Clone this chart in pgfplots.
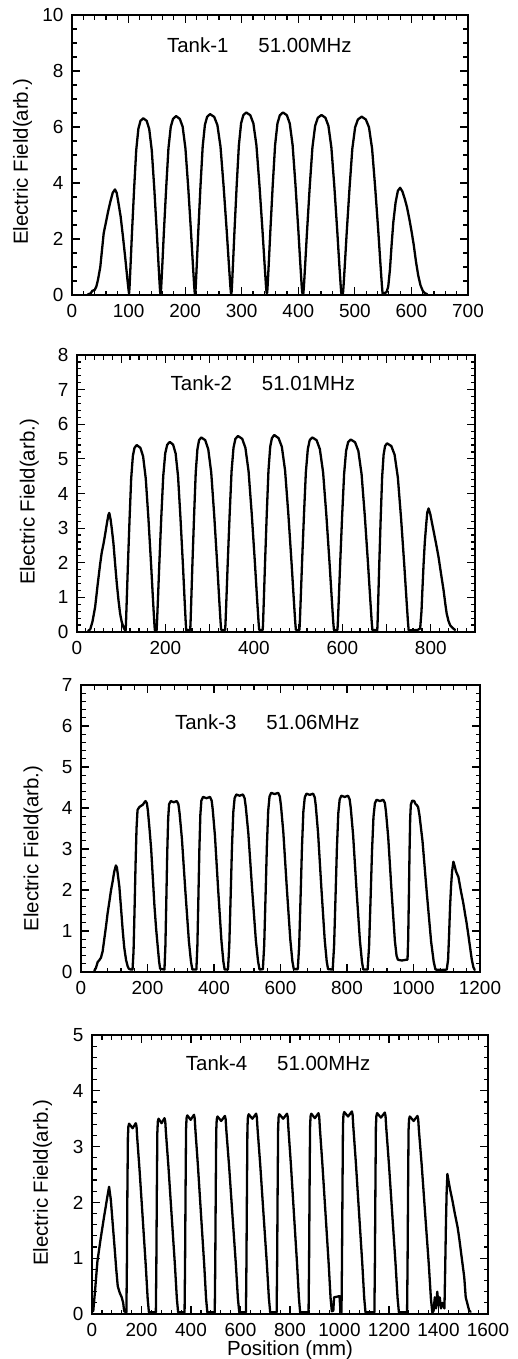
\documentclass[border=0pt]{standalone}
\usepackage{fontspec}
\setmainfont{Liberation Sans}
\usepackage{pgfplots}
\pgfplotsset{compat=1.18}
\newcommand\tickf{\fontsize{19}{21}\selectfont}
\newcommand\labf{\fontsize{20.5}{24}\selectfont}
\newcommand\titlef{\fontsize{20.5}{24}\selectfont}
\pgfplotsset{
  tank/.style={
    scale only axis,
    axis line style={line width=1.6bp},
    every tick/.style={line width=1.2bp, black},
    major tick length=8bp, minor tick length=4.5bp,
    tick align=inside,
    tick label style={font=\tickf},
    /pgf/number format/assume math mode=true,
    /pgf/number format/1000 sep={},
    xticklabel style={yshift=-6bp},
    yticklabel style={xshift=-5bp},
    ylabel={Electric Field(arb.)},
    ylabel style={anchor=center, font=\labf},
    clip=true,
  },
  tankcurve/.style={black, line width=2.3bp, line join=round, line cap=round, mark=none},
}
\begin{document}
\begin{tikzpicture}
\useasboundingbox (0,0) rectangle (518bp,-1359bp);
% ---------------- Tank 1
\begin{axis}[tank, at={(72bp,-295bp)}, anchor=south west, width=396bp, height=280bp,
  xmin=0, xmax=700, ymin=0, ymax=10,
  xtick={0,100,...,700}, minor xtick={0,20,...,700},
  ytick={0,2,...,10}, minor ytick={0,0.5,...,10},
  ylabel style={at={(axis description cs:-0.125,0.475)}}]
\addplot[tankcurve] coordinates {
(28,0.02) (33,0.06) (36,0.15) (40,0.18) (43,0.3) (46,0.55) (50,1.0) (53,1.6) (56,2.2) (60,2.6) (64,3.0) (68,3.35) (72,3.65) (76,3.77) (79,3.65) (82,3.3) (86,2.8) (90,2.1) (94,1.35) (97,0.75) (99,0.35) (100.5,0.1)
(101,0.06) (101.8,0.32) (103.5,1.07) (106,2.21) (109.8,3.79) (113.5,5.17) (117.3,5.93) (121,6.22) (126,6.31) (132,6.22) (136.5,5.93) (141,5.17) (145.5,3.79) (150,2.21) (153,1.07) (155.1,0.32) (156,0.06)
(157,0.06) (157.8,0.32) (159.7,1.09) (162.4,2.24) (166.5,3.83) (170.5,5.24) (174.6,6.01) (178.6,6.29) (184,6.39) (190.6,6.29) (195.6,6.01) (200.5,5.24) (205.5,3.83) (210.4,2.24) (213.7,1.09) (216,0.32) (217,0.06)
(218,0.06) (218.8,0.32) (220.6,1.10) (223.2,2.26) (227.1,3.88) (231,5.30) (234.9,6.07) (238.8,6.36) (244,6.46) (251.4,6.36) (257,6.07) (262.5,5.30) (268,3.88) (273.6,2.26) (277.3,1.10) (279.9,0.32) (281,0.06)
(282,0.07) (282.8,0.33) (284.6,1.11) (287.2,2.28) (291.1,3.91) (295,5.35) (298.9,6.13) (302.8,6.42) (308,6.52) (315.2,6.42) (320.6,6.13) (326,5.35) (331.4,3.91) (336.8,2.28) (340.4,1.11) (342.9,0.33) (344,0.07)
(345,0.07) (345.8,0.33) (347.8,1.11) (350.6,2.28) (354.8,3.91) (359,5.35) (363.2,6.13) (367.4,6.42) (373,6.52) (379.8,6.42) (384.9,6.13) (390,5.35) (395.1,3.91) (400.2,2.28) (403.6,1.11) (406,0.33) (407,0.07)
(409,0.06) (410,0.32) (412.2,1.09) (415.4,2.25) (420.2,3.86) (425,5.27) (429.8,6.04) (434.6,6.33) (441,6.43) (448,6.33) (453.3,6.04) (458.5,5.27) (463.8,3.86) (469,2.25) (472.5,1.09) (475,0.32) (476,0.06)
(479,0.06) (480,0.32) (482.3,1.08) (485.6,2.23) (490.6,3.82) (495.5,5.22) (500.5,5.99) (505.4,6.27) (512,6.37) (519.4,6.27) (525,5.99) (530.5,5.22) (536,3.82) (541.6,2.23) (545.3,1.08) (547.9,0.32) (549,0.06)
(550,0.05) (556,0.1) (559,0.3) (562,0.9) (565,1.8) (568,2.6) (572,3.3) (576,3.72) (580,3.83) (584,3.7) (588,3.45) (592,3.15) (596,2.75) (600,2.3) (604,1.8) (608,1.2) (612,0.7) (616,0.35) (620,0.15) (624,0.06) (628,0.03)
};
\node[font=\titlef] at (rel axis cs:0.473,0.893) {Tank-1\hspace{30bp}51.00MHz};
\end{axis}
% ---------------- Tank 2
\begin{axis}[tank, at={(77bp,-632bp)}, anchor=south west, width=398bp, height=277bp,
  xmin=0, xmax=900, ymin=0, ymax=8,
  xtick={0,100,...,900}, xticklabels={0,,200,,400,,600,,800,},
  minor xtick={0,20,...,900},
  ytick={0,1,...,8}, minor ytick={0,0.2,...,8},
  ylabel style={at={(axis description cs:-0.12,0.47)}}]
\addplot[tankcurve] coordinates {
(25,0.03) (30,0.08) (35,0.3) (41,0.72) (47,1.4) (52.5,1.98) (56,2.3) (60,2.55) (64,2.85) (67.5,3.13) (71,3.38) (73,3.44) (76,3.25) (79,2.95) (82.5,2.55) (86,2.0) (90,1.40) (94,0.9) (97.5,0.53) (101,0.3) (105,0.14) (108,0.06)
(110,0.05) (110.8,0.27) (112.5,0.92) (115,1.89) (118.8,3.24) (122.5,4.43) (126.3,5.08) (130,5.32) (135,5.40) (143.2,5.32) (149.4,5.08) (155.5,4.43) (161.7,3.24) (167.8,1.89) (171.9,0.92) (174.8,0.27) (176,0.05)
(180,0.05) (180.9,0.27) (183,0.93) (186,1.92) (190.5,3.29) (195,4.50) (199.5,5.16) (204,5.41) (210,5.49) (217.4,5.41) (223,5.16) (228.5,4.50) (234,3.29) (239.6,1.92) (243.3,0.93) (245.9,0.27) (247,0.05)
(256,0.06) (256.8,0.28) (258.5,0.96) (261,1.97) (264.8,3.37) (268.5,4.61) (272.3,5.28) (276,5.54) (281,5.62) (290,5.54) (296.8,5.28) (303.5,4.61) (310.3,3.37) (317,1.97) (321.5,0.96) (324.7,0.28) (326,0.06)
(335,0.06) (335.9,0.28) (337.9,0.96) (340.8,1.98) (345.2,3.40) (349.5,4.64) (353.9,5.32) (358.2,5.58) (364,5.66) (373.6,5.58) (380.8,5.32) (388,4.64) (395.2,3.40) (402.4,1.98) (407.2,0.96) (410.6,0.28) (412,0.06)
(420,0.06) (420.8,0.28) (422.6,0.97) (425.2,1.99) (429.1,3.41) (433,4.67) (436.9,5.35) (440.8,5.60) (446,5.69) (455.8,5.60) (463.2,5.35) (470.5,4.67) (477.9,3.41) (485.2,1.99) (490.1,0.97) (493.5,0.28) (495,0.06)
(503,0.06) (503.9,0.28) (505.9,0.96) (508.8,1.97) (513.2,3.37) (517.5,4.61) (521.9,5.28) (526.2,5.54) (532,5.62) (541.8,5.54) (549.2,5.28) (556.5,4.61) (563.9,3.37) (571.2,1.97) (576.1,0.96) (579.5,0.28) (581,0.06)
(589,0.06) (589.9,0.28) (592,0.95) (595,1.95) (599.5,3.34) (604,4.56) (608.5,5.23) (613,5.48) (619,5.56) (628.8,5.48) (636.2,5.23) (643.5,4.56) (650.9,3.34) (658.2,1.95) (663.1,0.95) (666.5,0.28) (668,0.06)
(679,0.05) (679.7,0.27) (681.2,0.93) (683.4,1.91) (686.7,3.27) (690,4.47) (693.3,5.12) (696.6,5.37) (701,5.45) (710.8,5.37) (718.2,5.12) (725.5,4.47) (732.9,3.27) (740.2,1.91) (745.1,0.93) (748.5,0.27) (750,0.05)
(760,0.05) (770,0.06) (776,0.1) (779,0.6) (781,1.2) (783.8,1.98) (786.5,2.6) (789.8,3.13) (792,3.45) (795,3.57) (799,3.4) (802,3.2) (806,2.94) (812,2.55) (817.5,2.17) (823,1.7) (829,1.2) (833,0.8) (836,0.53) (840,0.32) (844,0.19) (851,0.1) (855,0.06)
};
\node[font=\titlef] at (rel axis cs:0.467,0.9) {Tank-2\hspace{30bp}51.01MHz};
\end{axis}
% ---------------- Tank 3
\begin{axis}[tank, at={(81bp,-972bp)}, anchor=south west, width=399bp, height=287bp,
  xmin=0, xmax=1200, ymin=0, ymax=7,
  xtick={0,200,...,1200}, minor xtick={0,40,...,1200},
  ytick={0,1,...,7}, minor ytick={0,0.2,...,7},
  ylabel style={at={(axis description cs:-0.12,0.43)}}]
\addplot[tankcurve] coordinates {
(40,0.03) (45,0.1) (50,0.24) (56,0.3) (60,0.35) (65,0.5) (70,0.8) (75,1.1) (80,1.43) (85,1.7) (90.4,2.0) (95,2.2) (100,2.45) (105,2.6) (108,2.55) (112,2.3) (115.4,2.08) (120,1.6) (125.4,1.02) (130,0.6) (135.6,0.29) (140,0.15) (143.6,0.08) (150,0.06)
(155,0.06) (158,0.5) (161,1.5) (164,2.6) (167,3.5) (170,3.95) (175,4.02) (180,4.05) (186,4.08) (190,4.13) (194,4.17) (198,4.12) (201,3.95) (206,3.5) (211,3.0) (216,2.3) (221,1.6) (226,1.05) (231,0.6) (235,0.25) (238,0.08)
(251,0.06) (253.8,0.63) (256.6,1.75) (259.4,2.92) (262.2,3.75) (265,4.09) (270,4.17) (279,4.14) (288,4.17) (293,4.09) (296.4,3.88) (303.5,3.25) (314,1.96) (324.5,0.75) (330.8,0.25) (335,0.06)
(347,0.06) (350,0.64) (353,1.79) (356,2.99) (359,3.84) (362,4.18) (367,4.27) (377.5,4.24) (388,4.27) (393,4.18) (396.1,3.97) (402.8,3.33) (412.5,2.01) (422.3,0.77) (428.1,0.26) (432,0.06)
(442,0.06) (446,0.65) (450,1.82) (454,3.03) (458,3.90) (462,4.24) (467,4.33) (477,4.30) (487,4.33) (492,4.24) (495.6,4.03) (503.3,3.38) (514.5,2.04) (525.8,0.78) (532.5,0.26) (537,0.06)
(547,0.07) (551,0.66) (555,1.84) (559,3.06) (563,3.93) (567,4.28) (572,4.37) (582.5,4.34) (593,4.37) (598,4.28) (601.4,4.06) (608.5,3.41) (619,2.05) (629.5,0.79) (635.8,0.26) (640,0.07)
(652,0.07) (656.2,0.65) (660.4,1.83) (664.6,3.05) (668.8,3.92) (673,4.26) (678,4.35) (688,4.32) (698,4.35) (703,4.26) (706.2,4.05) (713,3.39) (723,2.04) (733,0.78) (739,0.26) (743,0.07)
(757,0.06) (761.2,0.65) (765.4,1.81) (769.6,3.01) (773.8,3.87) (778,4.21) (783,4.30) (793,4.27) (803,4.30) (808,4.21) (811.3,4.0) (818.3,3.35) (828.5,2.02) (838.8,0.77) (844.9,0.26) (849,0.06)
(862,0.06) (866.4,0.63) (870.8,1.76) (875.2,2.94) (879.6,3.78) (884,4.12) (889,4.20) (899,4.17) (909,4.20) (914,4.12) (917.2,3.91) (924,3.28) (934,1.97) (944,0.76) (949,0.4) (953,0.3) (965,0.28) (978,0.3)
(982,0.3) (984,0.8) (986,1.8) (988,2.9) (990,3.75) (992,4.08) (996,4.18) (1002,4.17) (1006,4.10) (1010,4.07) (1014,4.02) (1018.2,3.81) (1027,3.2) (1040,1.93) (1053,0.74) (1060.8,0.25) (1066,0.06)
(1085,0.05) (1100,0.06) (1104,0.3) (1107,0.9) (1110,1.6) (1113,2.1) (1116,2.45) (1120,2.69) (1124,2.58) (1128,2.45) (1135,2.32) (1142,2.0) (1150,1.67) (1155,1.42) (1160,1.18) (1165,0.9) (1170,0.61) (1175,0.32) (1180,0.12) (1184,0.05)
};
\node[font=\titlef] at (rel axis cs:0.467,0.87) {Tank-3\hspace{30bp}51.06MHz};
\end{axis}
% ---------------- Tank 4
\begin{axis}[tank, at={(92bp,-1314bp)}, anchor=south west, width=396bp, height=279bp,
  xmin=0, xmax=1600, ymin=0, ymax=5,
  xtick={0,200,...,1600}, minor xtick={0,40,...,1600},
  ytick={0,1,...,5}, minor ytick={0,0.2,...,5},
  ylabel style={at={(axis description cs:-0.125,0.47)}},
  xlabel={Position (mm)},
  xlabel style={at={(axis description cs:0.5,-0.13)}, anchor=center, font=\labf}]
\addplot[tankcurve] coordinates {
(5,0.05) (12,0.4) (22,0.95) (35,1.35) (49,1.75) (62,2.1) (69,2.28) (76,2.05) (84,1.6) (92,1.15) (98,0.8) (104,0.5) (112,0.38) (120,0.3) (126,0.2) (130,0.05)
(139,0.03) (141,0.9) (143,2.2) (145,3.16) (147,3.36) (150,3.41) (164,3.33) (177,3.42) (180,3.36) (182.5,3.17) (192.5,2.56) (205,1.71) (217.5,0.85) (225,0.27) (230,0.03)
(258,0.03) (260,0.9) (262,2.2) (264,3.25) (266,3.45) (269,3.50) (281,3.42) (293,3.51) (296,3.45) (298.6,3.26) (309,2.63) (322,1.75) (335,0.88) (342.8,0.28) (348,0.03)
(374,0.03) (376,0.9) (378,2.2) (380,3.31) (382,3.51) (385,3.56) (398.5,3.48) (412,3.57) (415,3.51) (417.6,3.31) (427.8,2.67) (440.5,1.78) (453.3,0.89) (460.9,0.28) (466,0.03)
(496,0.03) (498,0.9) (500,2.2) (502,3.29) (504,3.49) (507,3.54) (522,3.46) (537,3.55) (540,3.49) (542.8,3.29) (553.8,2.66) (567.5,1.77) (581.3,0.89) (589.5,0.28) (595,0.03)
(622,0.03) (624,0.9) (626,2.2) (628,3.33) (630,3.53) (633,3.58) (648,3.50) (663,3.59) (666,3.53) (668.7,3.33) (679.5,2.69) (693,1.79) (706.5,0.90) (714.6,0.29) (720,0.03)
(746,0.03) (748,0.9) (750,2.2) (752,3.33) (754,3.53) (757,3.58) (772.5,3.50) (788,3.59) (791,3.53) (793.5,3.33) (803.5,2.69) (816,1.79) (828.5,0.90) (836,0.29) (841,0.03)
(875,0.03) (877,0.9) (879,2.2) (881,3.34) (883,3.54) (886,3.59) (900.5,3.51) (915,3.60) (918,3.54) (920.6,3.34) (930.8,2.69) (943.5,1.80) (956.3,0.90) (963.9,0.29) (969,0.05)
(975,0.06) (978,0.3) (1000,0.32) (1004,0.05)
(1008,0.03) (1010,0.9) (1012,2.2) (1014,3.37) (1016,3.57) (1019,3.62) (1034.5,3.54) (1050,3.63) (1053,3.57) (1055.6,3.37) (1066,2.72) (1079,1.81) (1092,0.91) (1099.8,0.29) (1105,0.03)
(1141,0.03) (1143,0.9) (1145,2.2) (1147,3.35) (1149,3.55) (1152,3.60) (1167.5,3.52) (1183,3.61) (1186,3.55) (1188.7,3.35) (1199.5,2.70) (1213,1.80) (1226.5,0.90) (1234.6,0.29) (1240,0.03)
(1273,0.03) (1275,0.9) (1277,2.2) (1279,3.29) (1281,3.49) (1284,3.54) (1299.5,3.46) (1315,3.55) (1318,3.49) (1320.9,3.29) (1332.3,2.66) (1346.5,1.77) (1360.8,0.89) (1369.3,0.28) (1375,0.03)
(1380,0.05) (1385,0.3) (1390,0.1) (1395,0.4) (1400,0.15) (1405,0.3) (1410,0.1) (1416,0.2)
(1424,0.1) (1427,0.8) (1430,1.6) (1433,2.2) (1436,2.51) (1440,2.4) (1446,2.25) (1456,2.04) (1466,1.8) (1477,1.56) (1484,1.35) (1490,1.14) (1497,0.9) (1504,0.66) (1510,0.3) (1517,0.18) (1524,0.06) (1530,0.04)
};
\node[font=\titlef] at (rel axis cs:0.47,0.9) {Tank-4\hspace{30bp}51.00MHz};
\end{axis}
\end{tikzpicture}
\end{document}
